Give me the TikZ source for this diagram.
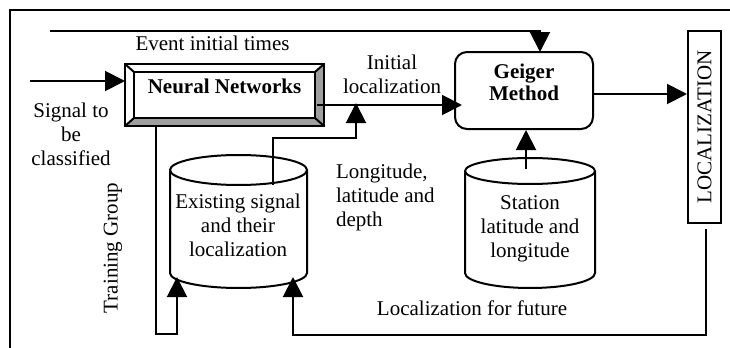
\documentclass[tikz,border=0pt]{standalone}
\usepackage{fontspec}
\setmainfont{Liberation Serif}
\usetikzlibrary{arrows.meta,calc}
\begin{document}
\begin{tikzpicture}[x=0.5pt,y=-0.5pt,line width=1pt,
  font=\fontsize{10.5}{12}\selectfont,
  arr/.style={-{Triangle[length=10pt,width=10pt]}},
  lbl/.style={inner sep=0pt,align=center},
  plain/.style={draw=none,inner sep=0pt}]
\useasboundingbox (0,0) rectangle (730,348);
% frame
\draw (9.5,348) -- (9.5,9.5) -- (730,9.5);

% Neural Networks bevel box
\node[plain,minimum width=98.5pt,minimum height=30pt] (nn) at (224.5,95) {};
\coordinate (nnA) at ($(nn.north west)+(9,8)$);
\coordinate (nnB) at ($(nn.north east)+(-9,8)$);
\coordinate (nnC) at ($(nn.south east)+(-9,-8)$);
\coordinate (nnD) at ($(nn.south west)+(9,-8)$);
\fill[gray!75] (nn.north east) -- (nn.south east) -- (nnC) -- (nnB) -- cycle;
\fill[gray!75] (nn.south west) -- (nn.south east) -- (nnC) -- (nnD) -- cycle;
\draw (nn.north west) rectangle (nn.south east);
\draw (nnA) rectangle (nnC);
\draw (nn.north west) -- (nnA) (nn.north east) -- (nnB) (nn.south east) -- (nnC) (nn.south west) -- (nnD);
\node[lbl,font=\fontsize{10.5}{12}\selectfont\bfseries] (nntext) at (224.5,86) {Neural Networks};

% Geiger
\node[draw,rounded corners=6pt,minimum width=69pt,minimum height=38.5pt] (geiger) at (524,90.5) {};
\node[lbl,font=\fontsize{10.5}{12}\selectfont\bfseries] (gtext) at (524,82) {Geiger\\[-1pt]Method};

% LOCALIZATION box
\node[draw,minimum width=16.5pt,minimum height=96pt,inner sep=0pt] (loc) at (704.5,127) {};
\node[lbl,rotate=90] (loctext) at (loc.center) {LOCALIZATION};

% Existing signal cylinder
\draw (238.5,170) ellipse [x radius=68.5,y radius=15];
\draw (170,170) -- (170,273) arc [start angle=180,end angle=0,x radius=68.5,y radius=15] -- (307,170);
\node[lbl] (exist) at (238,225) {Existing signal\\and their\\localization};

% Station cylinder
\draw (530,171) ellipse [x radius=65,y radius=13];
\draw (465,171) -- (465,273) arc [start angle=180,end angle=0,x radius=65,y radius=15] -- (595,171);
\node[lbl] (station) at (530,229) {Station\\latitude and\\longitude};

% coordinates for connector ends
\coordinate (inS) at (30,81);
\coordinate (evS) at (50,31);
\coordinate (gTop) at (540,52);
\coordinate (nnOut) at (317,105);
\coordinate (exTop) at (273,185);
\coordinate (exBendA) at (273,138);
\coordinate (exBendB) at (356,138);
\coordinate (exTip) at (356,103);
\coordinate (stTop) at (526,169);
\coordinate (trS) at (156,125);
\coordinate (trA) at (156,334);
\coordinate (trB) at (177,334);
\coordinate (trTip) at (177,277);
\coordinate (fuS) at (706,229);
\coordinate (fuA) at (706,335);
\coordinate (fuB) at (293,335);
\coordinate (fuTip) at (293,277);

% connectors
\draw[arr] (inS) -- (inS -| nn.west);
\draw[arr] (evS) -- (evS -| gTop) -- (gTop);
\draw[arr,shorten >=-4pt] (nnOut) -- (nnOut -| geiger.west);
\draw[arr] (exTop) -- (exBendA) -- (exBendB) -- (exTip);
\draw[arr] (stTop) -- (stTop |- geiger.south);
\draw[arr] (geiger.east |- 0,94) -- (loc.west |- 0,94);
\draw[arr] (trS) -- (trA) -- (trB) -- (trTip);
\draw[arr] (fuS) -- (fuA) -- (fuB) -- (fuTip);

% labels
\node[lbl] (evlbl) at (212.5,43) {Event initial times};
\node[lbl] (siglbl) at (71,134) {Signal to\\be\\classified};
\node[lbl] (initlbl) at (392,74.5) {Initial\\localization};
\node[lbl,align=left,anchor=west] (lonlbl) at (335,197) {Longitude,\\latitude and\\depth};
\node[lbl] (futlbl) at (472,308) {Localization for future};
\node[lbl,rotate=90] (trlbl) at (113,248) {Training Group};
\end{tikzpicture}
\end{document}
